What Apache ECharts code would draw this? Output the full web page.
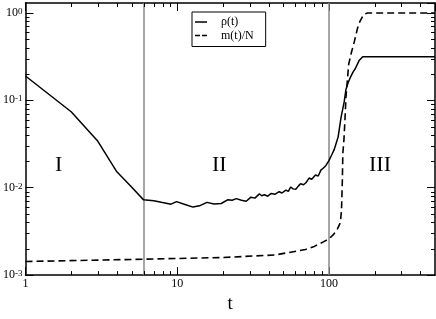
<!DOCTYPE html>
<html>
<head>
<meta charset="utf-8">
<script src="https://cdn.jsdelivr.net/npm/echarts@6/dist/echarts.min.js"></script>
<style>html,body{margin:0;padding:0;background:#fff;}#c{width:436px;height:319px;}</style>
</head>
<body>
<div id="c"></div>
<script>
// ---- data ----
var rhoT = [1, 2, 3, 4, 5, 6, 7, 7.85, 9.1, 9.9, 11, 12.7, 14, 15.7, 17.5, 19.5, 21.6, 23, 24.5, 26.5, 28.5, 30.6, 32.5, 34.8, 36, 37.6, 39.5, 41.7, 44, 47, 49, 52, 54, 56, 58, 60.5, 63, 65, 68, 70.5, 72.5, 74, 77, 81.5, 85, 88.5, 92, 95.5, 100, 104, 108.3, 112, 115, 120, 126, 129.5, 134, 139, 144, 149, 158, 167, 500];
var rhoV = [0.19, 0.074, 0.034, 0.0152, 0.0102, 0.00726, 0.0071, 0.0068, 0.00648, 0.00693, 0.0065, 0.0060, 0.0062, 0.0068, 0.0065, 0.0066, 0.0073, 0.0072, 0.0075, 0.0072, 0.0070, 0.0078, 0.0076, 0.0085, 0.0081, 0.0083, 0.0080, 0.0086, 0.0084, 0.0090, 0.0087, 0.0094, 0.0091, 0.0102, 0.0097, 0.0096, 0.0105, 0.0111, 0.0108, 0.0114, 0.0120, 0.0129, 0.0125, 0.0140, 0.0136, 0.0159, 0.0168, 0.0180, 0.0204, 0.0235, 0.0273, 0.033, 0.0382, 0.063, 0.096, 0.134, 0.16, 0.186, 0.21, 0.23, 0.285, 0.315, 0.315];
var mT = [1, 6, 20, 44, 70, 80, 92, 100, 107, 114, 119, 121, 122.5, 123.5, 125.5, 127.5, 129.5, 135, 141, 147, 154, 160, 167, 173, 180, 500];
var mV = [0.00143, 0.00152, 0.00159, 0.0017, 0.00196, 0.00213, 0.0024, 0.0026, 0.0029, 0.0034, 0.004, 0.0056, 0.0118, 0.025, 0.035, 0.06, 0.11, 0.26, 0.36, 0.47, 0.66, 0.8, 0.92, 0.98, 1.0, 1.0];
var seriesNames = ['ρ(t)', 'm(t)/N'];
var regionLines = [6, 100];
var regionLabels = ['I', 'II', 'III'];
var xMinorTicks = [2,3,4,5,6,7,8,9,20,30,40,50,60,70,80,90,200,300,400];
var yMinorTicks = [0.002,0.003,0.004,0.005,0.006,0.007,0.008,0.009,0.02,0.03,0.04,0.05,0.06,0.07,0.08,0.09,0.2,0.3,0.4,0.5,0.6,0.7,0.8,0.9];
var X_MIN = 1, X_MAX = 500, Y_MIN = 0.001, Y_MAX = 1.3;

var SERIF = '"Liberation Serif","DejaVu Serif",serif';

function pairs(xs, ys){ return xs.map(function(x,i){ return [x, ys[i]]; }); }

var minorData = xMinorTicks.map(function(v){ return [v, Y_MIN, 0]; })
  .concat(yMinorTicks.map(function(v){ return [X_MIN, v, 1]; }));

function isPow10(v){
  var l = Math.log10(v), e = Math.round(l);
  return Math.abs(l - e) < 1e-6 ? e : null;
}

var axisLineStyle = {lineStyle:{color:'#000', width:1.5}};
var tickStyle = {show:true, inside:true, length:8, lineStyle:{color:'#000', width:1}};

var chart = echarts.init(document.getElementById('c'), null, {renderer:'canvas'});
chart.setOption({
  animation:false,
  backgroundColor:'#fff',
  grid:{left:24, right:1, top:3, bottom:30, containLabel:false},
  legend:{
    data: [
      {name:seriesNames[0], icon:'path://M0,0h12v1.5h-12z'},
      {name:seriesNames[1], icon:'path://M0,0h5v1.5h-5zM7,0h5v1.5h-5z'}
    ],
    orient:'vertical',
    left:192, top:12,
    padding:[4,12,5,3],
    itemGap:1.5,
    itemWidth:12, itemHeight:12,
    symbolKeepAspect:true,
    itemStyle:{color:'#000', borderWidth:0},
    borderColor:'#000', borderWidth:1, borderRadius:0,
    backgroundColor:'#fff',
    textStyle:{fontFamily:SERIF, fontSize:12, color:'#000', lineHeight:12, padding:[0,0,0,9]}
  },
  xAxis:[{
    type:'log', logBase:10, min:X_MIN, max:X_MAX, interval:1,
    position:'bottom',
    axisLine:axisLineStyle, axisTick:tickStyle, splitLine:{show:false},
    axisLabel:{margin:3, color:'#000', fontFamily:SERIF, fontSize:12, showMaxLabel:false,
      formatter:function(v){ var e=isPow10(v); return e===null?'':String(Math.round(Math.pow(10,e))); }},
    name:'t', nameLocation:'middle', nameGap:13,
    nameTextStyle:{fontFamily:SERIF, fontSize:19, color:'#000'}
  },{
    type:'log', logBase:10, min:X_MIN, max:X_MAX, interval:1,
    position:'top',
    axisLine:axisLineStyle, axisTick:tickStyle, axisLabel:{show:false}, splitLine:{show:false}
  }],
  yAxis:[{
    type:'log', logBase:10, min:Y_MIN, max:Y_MAX, interval:1,
    position:'left',
    axisLine:axisLineStyle, axisTick:tickStyle, splitLine:{show:false},
    axisLabel:{margin:3, color:'#000', showMaxLabel:false,
      formatter:function(v){ var e=isPow10(v); return e===null?'':'{b|10}{s|'+e+'}'; },
      rich:{
        b:{fontFamily:SERIF, fontSize:12, lineHeight:12, padding:[5,0,0,0], verticalAlign:'bottom', color:'#000'},
        s:{fontFamily:SERIF, fontSize:9, lineHeight:9, verticalAlign:'top', color:'#000'}
      }}
  },{
    type:'log', logBase:10, min:Y_MIN, max:Y_MAX, interval:1,
    position:'right',
    axisLine:axisLineStyle, axisTick:tickStyle, axisLabel:{show:false}, splitLine:{show:false}
  }],
  series:[{
    name:seriesNames[0], type:'line', xAxisIndex:0, yAxisIndex:0,
    data:pairs(rhoT, rhoV), showSymbol:false, symbol:'none',
    lineStyle:{color:'#000', width:1.5}, itemStyle:{color:'#000'},
    z:5,
    markLine:{
      silent:true, symbol:'none', label:{show:false},
      lineStyle:{color:'#888', width:1.5, type:'solid'},
      data: regionLines.map(function(v){ return {xAxis:v}; })
    }
  },{
    name:seriesNames[1], type:'line', xAxisIndex:0, yAxisIndex:0,
    data:pairs(mT, mV), showSymbol:false, symbol:'none',
    lineStyle:{color:'#000', width:1.6, type:[7,4]}, itemStyle:{color:'#000'},
    z:5
  },{
    name:'minorTicks', type:'custom', xAxisIndex:0, yAxisIndex:0,
    data:minorData, silent:true, clip:false, z:10,
    encode:{x:0, y:1},
    renderItem:function(params, api){
      var cs = params.coordSys;
      var kind = api.value(2);
      var st = {stroke:'#000', lineWidth:1};
      var L = 4;
      if (kind === 0){
        var x = Math.round(api.coord([api.value(0), Y_MIN])[0]) + 0.5;
        return {type:'group', children:[
          {type:'line', shape:{x1:x, y1:cs.y+cs.height, x2:x, y2:cs.y+cs.height-L}, style:st},
          {type:'line', shape:{x1:x, y1:cs.y, x2:x, y2:cs.y+L}, style:st}
        ]};
      } else {
        var y = Math.round(api.coord([X_MIN, api.value(1)])[1]) + 0.5;
        return {type:'group', children:[
          {type:'line', shape:{x1:cs.x, y1:y, x2:cs.x+L, y2:y}, style:st},
          {type:'line', shape:{x1:cs.x+cs.width, y1:y, x2:cs.x+cs.width-L, y2:y}, style:st}
        ]};
      }
    }
  }],
  graphic:[
    {type:'text', left:55, top:154, style:{text:regionLabels[0], font:'22px '+SERIF, fill:'#000'}},
    {type:'text', left:212, top:154, style:{text:regionLabels[1], font:'22px '+SERIF, fill:'#000'}},
    {type:'text', left:369, top:154, style:{text:regionLabels[2], font:'22px '+SERIF, fill:'#000'}}
  ]
});
</script>
</body>
</html>
